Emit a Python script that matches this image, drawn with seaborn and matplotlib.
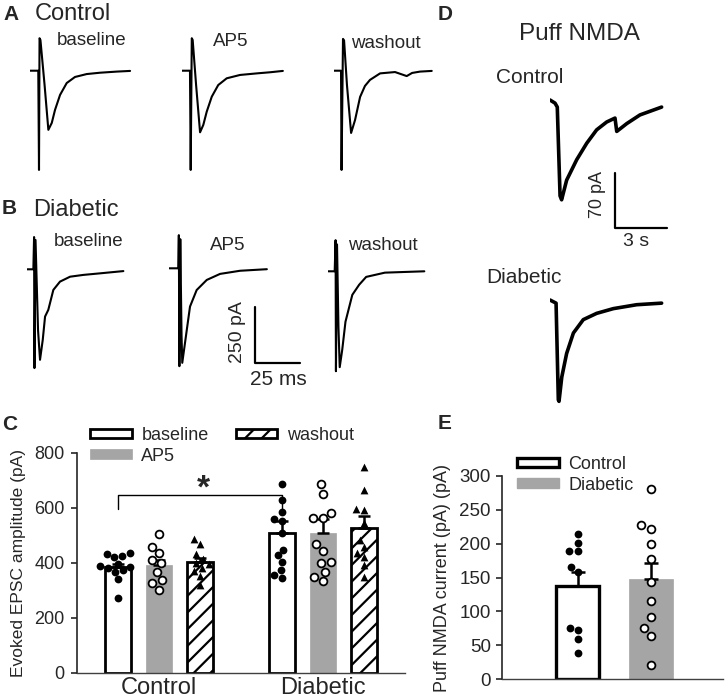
import numpy as np
import pandas as pd
import seaborn as sns
import matplotlib.pyplot as plt
from matplotlib.patches import Patch

sns.set_style("ticks")
plt.rcParams["font.family"] = ["Liberation Sans", "DejaVu Sans"]
plt.rcParams["hatch.linewidth"] = 1.6

W, H = 726, 700

# ---------------- data ----------------
# panel C, evoked EPSC amplitude (pA)
groups = ["Control", "Diabetic"]
conds = ["baseline", "AP5", "washout"]
ctrl_mean = [384, 391, 401]
ctrl_sem = [12, 19, 15]
diab_mean = [509, 507, 526]
diab_sem = [44, 51, 44]
ctrl_baseline = [437, 431, 425, 420, 395, 388, 384, 380, 372, 367, 341, 270]
ctrl_ap5 = [503, 458, 434, 410, 398, 367, 337, 327, 301]
ctrl_washout = [488, 468, 430, 415, 400, 395, 380, 370, 350, 320]
diab_baseline = [686, 629, 585, 558, 552, 507, 448, 428, 404, 373, 355, 345]
diab_ap5 = [685, 651, 582, 564, 561, 467, 441, 401, 398, 367, 349, 333]
diab_washout = [749, 664, 594, 591, 543, 482, 458, 434, 422, 392, 349]

# panel E, puff NMDA current (pA)
e_groups = ["Control", "Diabetic"]
e_mean = [138, 147.5]
e_sem = [20, 24]
e_ctrl = [215, 201, 189, 189, 165, 158, 75, 72, 59, 39]
e_diab = [281, 227, 222, 199, 178, 144, 116, 91, 75, 64, 21]

# example traces A/B (ms, pA)
a_base_t = [0, 4.6, 5.0, 5.3, 5.8, 8.1, 10.2, 12.1, 13.9, 16.7, 20.4, 25.0, 31.5, 38.9, 48.2, 55.6]
a_base_i = [0, 0, -443, 145, 137, -64, -264, -233, -175, -108, -55, -28, -15, -9, -4, -1]
a_ap5_t = [0, 4.6, 5.0, 5.6, 6.1, 8.0, 10.2, 12.0, 13.9, 16.7, 20.3, 25.0, 32.4, 41.7, 49.1, 56.2]
a_ap5_i = [0, 0, -443, 145, 137, -64, -275, -242, -183, -116, -64, -34, -19, -12, -7, -1]
a_wash_t = [0, 3.9, 4.2, 5.0, 5.6, 7.2, 9.5, 11.7, 14.5, 17.2, 20.0, 25.6, 33.9, 40.4, 43.4, 47.8, 54.3]
a_wash_i = [0, 0, -443, 142, 135, -64, -278, -220, -117, -68, -41, -12, -6, -24, -10, -4, -1]
b_base_t = [0, 3.7, 4.1, 4.3, 4.9, 6.3, 7.4, 8.9, 10.2, 12.0, 14.8, 18.5, 24.1, 31.5, 40.8, 53.7]
b_base_i = [0, 0, 144, -441, 131, -272, -404, -316, -211, -181, -92, -55, -33, -25, -18, -8]
b_ap5_t = [0, 5.0, 5.3, 5.6, 6.1, 6.8, 7.2, 9.7, 11.5, 15.2, 20.8, 28.2, 39.3, 54.2]
b_ap5_i = [0, 0, 148, -437, 130, -300, -422, -276, -171, -97, -52, -25, -11, -4]
b_wash_t = [0, 3.6, 4.1, 4.3, 4.9, 5.7, 6.4, 7.8, 9.6, 13.4, 17.2, 21.1, 31.5, 53.4]
b_wash_i = [0, 0, 139, -446, 120, -250, -428, -350, -225, -105, -60, -25, -6, 0]

# puff NMDA traces D (s, pA)
d_ctrl_t = [0, 0.29, 0.42, 0.58, 0.67, 0.96, 1.54, 2.12, 2.69, 3.27, 3.75, 3.85, 4.43, 5.19, 6.44]
d_ctrl_i = [0, -4, -9, -122, -127, -102, -76, -55, -38, -28, -23, -40, -30, -19, -9]
d_diab_t = [0, 0.35, 0.48, 0.52, 0.68, 0.96, 1.35, 1.92, 2.69, 3.65, 5.0, 6.44]
d_diab_i = [0, -4, -127, -129, -98, -68, -42, -25, -17, -11, -6, -4]

GRAY = "#a5a5a5"

fig = plt.figure(figsize=(W / 100, H / 100), dpi=100)


def fx(x):
    return x / W


def fy(y):
    return 1 - y / H


def trace_ax(x0, base, w, up, down, xs, ys):
    ax = fig.add_axes([fx(x0), fy(base + down), w / W, (up + down) / H])
    ax.set_xlim(0, w * xs)
    ax.set_ylim(-down * ys, up * ys)
    ax.axis("off")
    return ax


def draw_trace(ax, t, i, lw=1.5):
    sns.lineplot(x=t, y=i, ax=ax, color="black", lw=lw, estimator=None, sort=False)


# ---------------- A / B traces ----------------
MS, PA = 25 / 45, 250 / 56
for x0, base, t, i in [(30, 70.7, a_base_t, a_base_i), (181.7, 70.7, a_ap5_t, a_ap5_i),
                       (334, 70.7, a_wash_t, a_wash_i), (26.7, 269.3, b_base_t, b_base_i),
                       (328.2, 271.3, b_wash_t, b_wash_i)]:
    ax = trace_ax(x0, base, 135, 45, 110, MS, PA)
    draw_trace(ax, t, i)

axb = trace_ax(169.3, 268.3, 135, 45, 110, MS, PA)
draw_trace(axb, b_ap5_t, b_ap5_i)
# scale bar 250 pA / 25 ms
axb.plot([47.6, 47.6, 47.6 + 25], [-422 + 250, -422, -422], color="black", lw=1.6)

# ---------------- D traces ----------------
S, PD = 3 / 52, 70 / 55
axd1 = trace_ax(550, 100, 125, 15, 135, S, PD)
draw_trace(axd1, d_ctrl_t, d_ctrl_i, lw=2.6)
axd1.plot([3.75, 3.75, 3.75 + 3], [-163 + 70, -163, -163], color="black", lw=1.6)
axd2 = trace_ax(550, 300, 125, 15, 135, S, PD)
draw_trace(axd2, d_diab_t, d_diab_i, lw=2.6)

# ---------------- panel C ----------------
axC = fig.add_axes([fx(77), fy(672.7), (405 - 77) / W, (672.7 - 452.7) / H])
dfC = pd.DataFrame({"group": np.repeat(groups, 3), "cond": conds * 2,
                    "amp": ctrl_mean + diab_mean})
sns.barplot(data=dfC, x="group", y="amp", hue="cond", order=groups, hue_order=conds,
            palette={"baseline": "white", "AP5": GRAY, "washout": "white"},
            width=0.75, gap=0.37, errorbar=None, edgecolor="black", linewidth=2,
            saturation=1, legend=False, ax=axC)
for p in axC.containers[1].patches:
    p.set_edgecolor(GRAY)
    p.set_linewidth(0.5)
for p in axC.containers[2].patches:
    p.set_hatch("//")

sems = {"Control": ctrl_sem, "Diabetic": diab_sem}
pts = {("Control", "baseline"): ctrl_baseline, ("Control", "AP5"): ctrl_ap5,
       ("Control", "washout"): ctrl_washout, ("Diabetic", "baseline"): diab_baseline,
       ("Diabetic", "AP5"): diab_ap5, ("Diabetic", "washout"): diab_washout}
styles = {"baseline": dict(color="black", marker="o", linewidth=0),
          "AP5": dict(color="white", marker="o", edgecolor="black", linewidth=1.3),
          "washout": dict(color="black", marker="^", linewidth=0)}
centers = {}
for ci, c in enumerate(conds):
    xs, ys = [], []
    for gi, g in enumerate(groups):
        p = axC.containers[ci].patches[gi]
        xc = p.get_x() + p.get_width() / 2
        centers[(g, c)] = xc
        axC.errorbar([xc], [p.get_height()], yerr=[[0], [sems[g][ci]]], fmt="none",
                     ecolor="black", elinewidth=1.8, capsize=4, capthick=1.8)
        xs += [xc] * len(pts[(g, c)])
        ys += pts[(g, c)]
    sns.swarmplot(x=xs, y=ys, native_scale=True, orient="x", size=5.6, ax=axC, **styles[c])

x1, x2 = centers[("Control", "baseline")], centers[("Diabetic", "baseline")]
axC.plot([x1, x1, x2, x2], [594, 648, 648, 597], color="black", lw=1)
axC.text((x1 + x2) / 2 + 0.02, 668, "*", fontsize=24, fontweight="bold", ha="center", va="center")

axC.set_xlim(-0.5, 1.5)
axC.set_ylim(0, 800)
axC.set_yticks([0, 200, 400, 600, 800])
axC.set_xticks([0, 1])
axC.set_xticklabels(groups, fontsize=17)
axC.tick_params(axis="x", length=0, pad=3)
axC.tick_params(axis="y", labelsize=13, length=4, width=1.2, pad=5)
axC.set_xlabel("")
axC.set_ylabel("Evoked EPSC amplitude (pA)", fontsize=12.5, labelpad=6)
sns.despine(ax=axC)
axC.spines["left"].set_linewidth(1.2)
axC.spines["bottom"].set_linewidth(1)
axC.spines["bottom"].set_color("#404040")

hC = [axC.containers[i].patches[0] for i in range(3)]
axC.legend(hC, conds, loc="upper left", bbox_to_anchor=(fx(90), fy(427)),
           bbox_transform=fig.transFigure, ncol=2, frameon=False, fontsize=13,
           borderpad=0, borderaxespad=0, handlelength=2.3, handleheight=0.45,
           handletextpad=0.55, columnspacing=1.5, labelspacing=0.2)

# ---------------- panel E ----------------
axE = fig.add_axes([fx(502), fy(679), (723 - 502) / W, (679 - 476) / H])
dfE = pd.DataFrame({"group": e_groups, "amp": e_mean})
sns.barplot(data=dfE, x="group", y="amp", hue="group", order=e_groups,
            palette={"Control": "white", "Diabetic": GRAY}, width=0.6, errorbar=None,
            edgecolor="black", linewidth=2.4, saturation=1, legend=False, ax=axE)
ecenters = []
for p in axE.patches:
    if p.get_facecolor()[0] < 0.9:
        p.set_edgecolor(GRAY)
        p.set_linewidth(0.5)
    ecenters.append(p.get_x() + p.get_width() / 2)
for k, (vals, st) in enumerate([(e_ctrl, styles["baseline"]), (e_diab, styles["AP5"])]):
    axE.errorbar([ecenters[k]], [e_mean[k]], yerr=[[0], [e_sem[k]]], fmt="none",
                 ecolor="black", elinewidth=1.8, capsize=5, capthick=1.8)
    sns.swarmplot(x=[ecenters[k]] * len(vals), y=vals, native_scale=True, orient="x",
                  size=5.6, ax=axE, **st)
axE.set_xlim(-1.034, 1.99)
axE.set_ylim(0, 300)
axE.set_yticks(range(0, 301, 50))
axE.set_xticks([])
axE.set_xlabel("")
axE.set_ylabel("Puff NMDA current (pA) (pA)", fontsize=13, labelpad=6)
axE.tick_params(axis="y", labelsize=13.5, length=4, width=1.2, pad=4)
sns.despine(ax=axE)
axE.spines["left"].set_linewidth(1.2)
axE.spines["bottom"].set_linewidth(1)
axE.spines["bottom"].set_color("#404040")
hE = [Patch(facecolor="white", edgecolor="black", linewidth=2.4),
      Patch(facecolor=GRAY, edgecolor=GRAY)]
axE.legend(hE, e_groups, loc="upper left", bbox_to_anchor=(fx(517), fy(456)),
           bbox_transform=fig.transFigure, frameon=False, fontsize=13,
           borderpad=0, borderaxespad=0, handlelength=2.3, handleheight=0.45,
           handletextpad=0.55, labelspacing=0.2)

# ---------------- texts ----------------
def txt(x, y, s, size, **kw):
    fig.text(fx(x), fy(y), s, fontsize=size, **kw)


for x, y, s in [(3, 20, "A"), (2, 214, "B"), (2, 430, "C"), (438, 20, "D"), (438, 429, "E")]:
    txt(x, y, s, 15, fontweight="bold", va="baseline")
txt(35, 20, "Control", 17, va="baseline")
txt(33, 216, "Diabetic", 17, va="baseline")
txt(579, 40, "Puff NMDA", 17.5, va="baseline", ha="center")
txt(530, 83, "Control", 15, va="baseline", ha="center")
txt(524, 283, "Diabetic", 15, va="baseline", ha="center")
for x, y, s in [(92, 45, "baseline"), (231, 46, "AP5"), (386, 48, "washout"),
                (89, 246, "baseline"), (228, 250, "AP5"), (383, 250, "washout")]:
    txt(x, y, s, 13.5, va="baseline", ha="center")
txt(238, 332, "250 pA", 14, rotation=90, ha="center", va="center")
txt(278, 379, "25 ms", 15, ha="center", va="center")
txt(597, 195, "70 pA", 13, rotation=90, ha="center", va="center")
txt(636, 242, "3 s", 14, ha="center", va="center")

fig.savefig("out.png", dpi=100)
